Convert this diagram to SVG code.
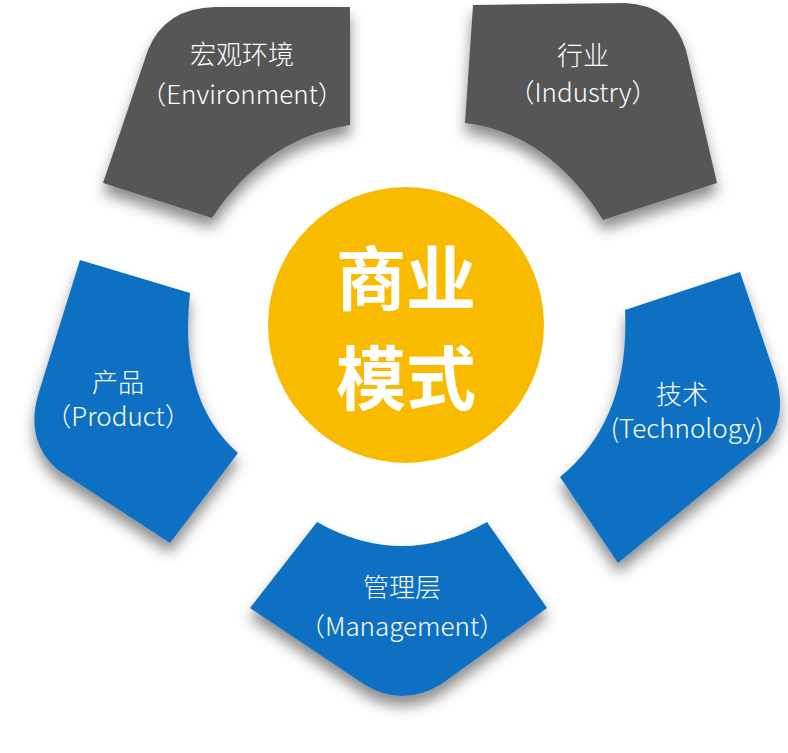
<svg xmlns="http://www.w3.org/2000/svg" width="788" height="753" viewBox="0 0 788 753">
<defs>
<filter id="sh" x="-20%" y="-20%" width="140%" height="150%"><feDropShadow dx="0" dy="10" stdDeviation="7" flood-color="#000" flood-opacity="0.45"/></filter>
</defs>
<style>
.g{fill:#575757;filter:url(#sh)}
.b{fill:#0D6FC3;filter:url(#sh)}
text{fill:#fff;font-family:"Noto Sans CJK SC","Noto Sans",sans-serif;text-anchor:middle}
.l{font-size:26px;font-weight:300}
.c{font-size:70px;font-weight:bold}
</style>
<rect width="788" height="753" fill="#fff"/>
<g id="env"><path class="g" d="M350,7 L350,125 Q265,138 212,218 L103,183 L148,50 Q165,8 215,7 Z"/>
<text class="l" x="242" y="64" font-size="31">宏观环境</text><text class="l" x="242" y="104" font-size="28">（Environment）</text></g>
<g id="ind"><path class="g" d="M473,5 L625,3 Q672,5 686,50 L717,183 L603,220 Q548,133 465,123 Z"/>
<text class="l" x="583" y="65">行业</text><text class="l" x="583" y="102">（Industry）</text></g>
<g id="prod"><path class="b" d="M80,260 L190,293 Q178,400 238,453 L170,543 L58,470 Q25,442 38,395 Z"/>
<text class="l" x="118" y="392">产品</text><text class="l" x="118" y="426">（Product）</text></g>
<g id="tech"><path class="b" d="M625,310 L740,272 L775,375 Q788,415 768,440 L618,563 L560,477 Q630,420 625,310 Z"/>
<text class="l" x="682" y="404">技术</text><text class="l" x="687" y="438" font-size="27">(Technology)</text></g>
<g id="mgmt"><path class="b" d="M317,522 Q402,570 487,522 L547,608 L440,685 Q402,707 365,685 L250,608 Z"/>
<text class="l" x="402" y="597" font-size="28">管理层</text><text class="l" x="402" y="636" font-size="28">（Management）</text></g>
<g id="center"><circle cx="406" cy="325" r="138" fill="#F8BB00"/>
<text class="c" x="406" y="305">商业</text><text class="c" x="406" y="405">模式</text></g>
<g id="connectors"/>
</svg>
